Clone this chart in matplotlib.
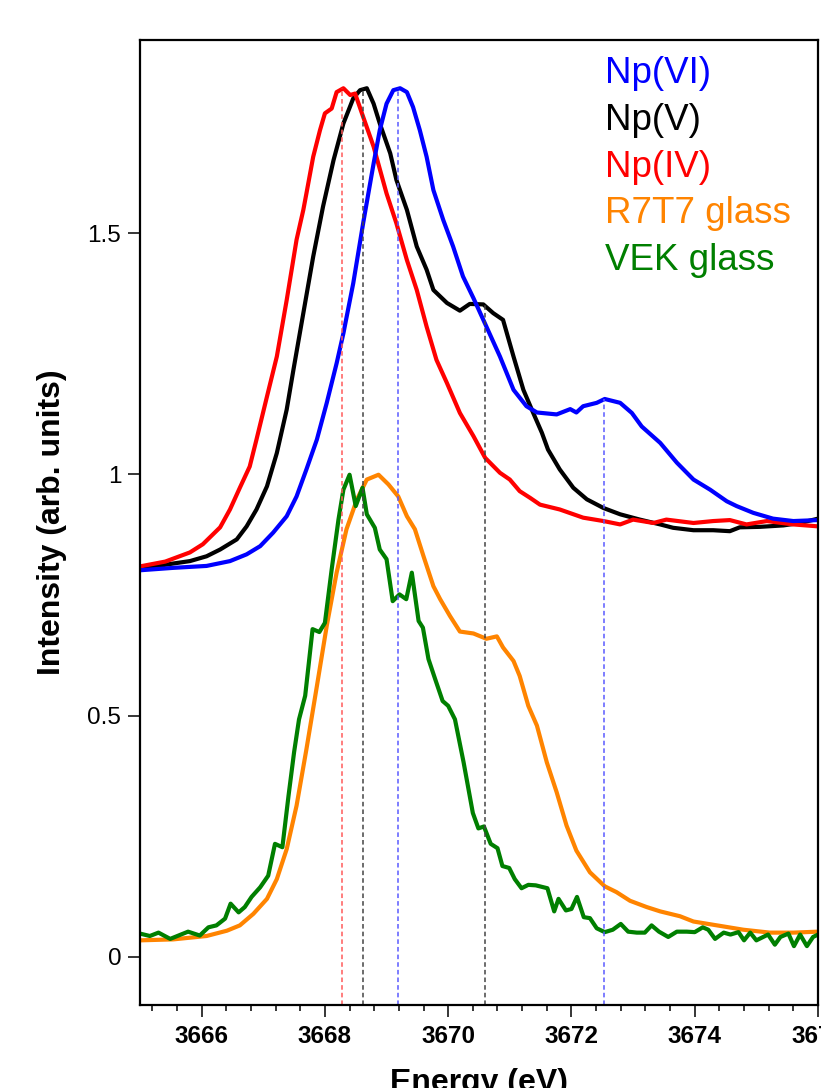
import numpy as np
import matplotlib.pyplot as plt

plt.rcParams['font.family'] = ['Liberation Sans', 'DejaVu Sans']

# Np L3-edge HERFD spectra (reference compounds offset by +0.8)
np6_e = [3665.0, 3665.54, 3666.08, 3666.46, 3666.73, 3666.95, 3667.16, 3667.38, 3667.54, 3667.70,
         3667.87, 3668.03, 3668.19, 3668.30, 3668.46, 3668.62, 3668.79, 3668.89, 3669.00, 3669.11,
         3669.22, 3669.33, 3669.43, 3669.54, 3669.65, 3669.76, 3669.92, 3670.08, 3670.24, 3670.41,
         3670.62, 3670.84, 3671.06, 3671.27, 3671.44, 3671.76, 3671.98, 3672.08, 3672.19, 3672.41,
         3672.54, 3672.79, 3672.98, 3673.14, 3673.44, 3673.71, 3673.98, 3674.25, 3674.52, 3674.68,
         3674.95, 3675.27, 3675.60, 3676.0]
np6_i = [0.801, 0.806, 0.810, 0.820, 0.834, 0.851, 0.879, 0.913, 0.954, 1.010,
         1.072, 1.148, 1.230, 1.292, 1.396, 1.520, 1.644, 1.713, 1.768, 1.796,
         1.800, 1.792, 1.761, 1.713, 1.658, 1.589, 1.527, 1.472, 1.410, 1.365,
         1.306, 1.244, 1.175, 1.141, 1.128, 1.124, 1.135, 1.128, 1.141, 1.148,
         1.156, 1.148, 1.127, 1.099, 1.065, 1.024, 0.989, 0.968, 0.944, 0.934,
         0.920, 0.908, 0.903, 0.905]

np5_e = [3665.0, 3665.54, 3665.81, 3666.08, 3666.30, 3666.57, 3666.73, 3666.89, 3667.06, 3667.22,
         3667.38, 3667.49, 3667.65, 3667.81, 3667.97, 3668.14, 3668.30, 3668.46, 3668.57, 3668.68,
         3668.79, 3668.89, 3669.06, 3669.16, 3669.33, 3669.49, 3669.65, 3669.76, 3669.98, 3670.19,
         3670.35, 3670.57, 3670.73, 3670.89, 3671.06, 3671.22, 3671.38, 3671.52, 3671.62, 3671.81,
         3672.03, 3672.25, 3672.52, 3672.79, 3673.11, 3673.44, 3673.65, 3673.98, 3674.30, 3674.57,
         3674.73, 3675.06, 3675.44, 3675.71, 3676.0]
np5_i = [0.804, 0.815, 0.820, 0.830, 0.844, 0.865, 0.892, 0.927, 0.975, 1.044,
         1.134, 1.217, 1.334, 1.451, 1.555, 1.651, 1.727, 1.779, 1.796, 1.800,
         1.768, 1.727, 1.665, 1.610, 1.548, 1.472, 1.424, 1.382, 1.355, 1.339,
         1.353, 1.352, 1.334, 1.320, 1.244, 1.175, 1.127, 1.086, 1.051, 1.010,
         0.972, 0.948, 0.930, 0.917, 0.906, 0.896, 0.889, 0.884, 0.884, 0.882,
         0.890, 0.891, 0.894, 0.899, 0.908]

np4_e = [3665.0, 3665.41, 3665.81, 3666.02, 3666.30, 3666.46, 3666.62, 3666.78, 3666.89, 3667.06,
         3667.22, 3667.38, 3667.54, 3667.65, 3667.70, 3667.81, 3667.92, 3668.00, 3668.11, 3668.19,
         3668.30, 3668.41, 3668.49, 3668.62, 3668.79, 3669.00, 3669.16, 3669.33, 3669.49, 3669.65,
         3669.81, 3669.98, 3670.19, 3670.41, 3670.60, 3670.84, 3671.00, 3671.16, 3671.33, 3671.49,
         3671.81, 3672.19, 3672.52, 3672.79, 3673.00, 3673.33, 3673.54, 3673.98, 3674.30, 3674.57,
         3674.84, 3675.17, 3675.60, 3676.0]
np4_i = [0.809, 0.819, 0.838, 0.855, 0.890, 0.927, 0.972, 1.016, 1.072, 1.161,
         1.244, 1.361, 1.486, 1.548, 1.582, 1.658, 1.713, 1.748, 1.758, 1.792,
         1.800, 1.786, 1.789, 1.741, 1.679, 1.582, 1.520, 1.444, 1.382, 1.306,
         1.237, 1.189, 1.127, 1.079, 1.034, 1.003, 0.989, 0.965, 0.951, 0.937,
         0.927, 0.910, 0.903, 0.896, 0.906, 0.899, 0.906, 0.899, 0.903, 0.905,
         0.896, 0.903, 0.896, 0.892]

r7t7_e = [3665.0, 3665.54, 3666.08, 3666.41, 3666.62, 3666.84, 3667.06, 3667.22, 3667.38, 3667.54,
          3667.70, 3667.87, 3668.03, 3668.19, 3668.35, 3668.52, 3668.68, 3668.87, 3669.03, 3669.19,
          3669.33, 3669.46, 3669.60, 3669.76, 3669.87, 3670.03, 3670.19, 3670.41, 3670.62, 3670.79,
          3670.89, 3671.06, 3671.16, 3671.30, 3671.44, 3671.60, 3671.76, 3671.92, 3672.08, 3672.30,
          3672.54, 3672.73, 3672.95, 3673.22, 3673.44, 3673.76, 3673.98, 3674.41, 3674.79, 3675.22,
          3675.60, 3676.0]
r7t7_i = [0.034, 0.036, 0.043, 0.054, 0.065, 0.089, 0.120, 0.161, 0.223, 0.313,
          0.430, 0.561, 0.686, 0.796, 0.886, 0.948, 0.989, 0.999, 0.979, 0.954,
          0.913, 0.886, 0.830, 0.768, 0.741, 0.706, 0.674, 0.670, 0.659, 0.664,
          0.641, 0.613, 0.582, 0.520, 0.479, 0.403, 0.341, 0.272, 0.220, 0.175,
          0.146, 0.134, 0.116, 0.103, 0.094, 0.084, 0.073, 0.064, 0.056, 0.050,
          0.050, 0.052]

vek_e = [3665.0, 3665.16, 3665.30, 3665.49, 3665.78, 3665.97, 3666.11, 3666.24, 3666.38, 3666.47,
         3666.60, 3666.70, 3666.81, 3666.95, 3667.08, 3667.19, 3667.31, 3667.41, 3667.50, 3667.58,
         3667.68, 3667.80, 3667.91, 3668.00, 3668.11, 3668.22, 3668.30, 3668.40, 3668.50, 3668.61,
         3668.68, 3668.81, 3668.89, 3669.00, 3669.10, 3669.21, 3669.32, 3669.41, 3669.52, 3669.59,
         3669.68, 3669.79, 3669.91, 3670.00, 3670.11, 3670.25, 3670.40, 3670.49, 3670.58, 3670.69,
         3670.80, 3670.88, 3670.99, 3671.08, 3671.19, 3671.30, 3671.42, 3671.61, 3671.72, 3671.79,
         3671.91, 3672.00, 3672.09, 3672.20, 3672.30, 3672.41, 3672.54, 3672.67, 3672.80, 3672.92,
         3673.06, 3673.19, 3673.30, 3673.42, 3673.57, 3673.71, 3673.87, 3674.00, 3674.13, 3674.22,
         3674.33, 3674.47, 3674.58, 3674.71, 3674.80, 3674.90, 3675.00, 3675.19, 3675.30, 3675.39,
         3675.52, 3675.61, 3675.71, 3675.82, 3675.92, 3676.0]
vek_i = [0.048, 0.043, 0.050, 0.037, 0.052, 0.044, 0.061, 0.065, 0.079, 0.110,
         0.092, 0.103, 0.124, 0.144, 0.168, 0.234, 0.227, 0.334, 0.424, 0.492,
         0.541, 0.679, 0.673, 0.692, 0.803, 0.906, 0.968, 0.999, 0.934, 0.972,
         0.917, 0.889, 0.844, 0.824, 0.737, 0.751, 0.741, 0.796, 0.696, 0.682,
         0.617, 0.575, 0.530, 0.520, 0.492, 0.403, 0.298, 0.266, 0.270, 0.234,
         0.225, 0.188, 0.184, 0.161, 0.142, 0.149, 0.148, 0.142, 0.094, 0.120,
         0.096, 0.099, 0.124, 0.082, 0.080, 0.059, 0.051, 0.056, 0.068, 0.052,
         0.050, 0.050, 0.065, 0.052, 0.041, 0.052, 0.052, 0.051, 0.061, 0.056,
         0.037, 0.050, 0.046, 0.051, 0.034, 0.050, 0.034, 0.046, 0.025, 0.041,
         0.048, 0.022, 0.046, 0.022, 0.041, 0.046]

# white-line / shoulder positions marked with dashed lines
mark_e = [3668.28, 3668.62, 3669.19, 3670.60, 3672.53]
mark_top = [1.800, 1.800, 1.800, 1.352, 1.156]
mark_col = ['#ff5a5a', '#444444', '#5a5aff', '#444444', '#5a5aff']

labels = ['Np(VI)', 'Np(V)', 'Np(IV)', 'R7T7 glass', 'VEK glass']
colors = ['#0000ff', '#000000', '#ff0000', '#ff8400', '#007f00']

fig = plt.figure(figsize=(8.21, 10.88), dpi=100)
ax = fig.add_axes([140 / 821, 83 / 1088, 678 / 821, 965 / 1088])

lw = 3.0
ax.plot(r7t7_e, r7t7_i, color=colors[3], lw=lw)
ax.plot(vek_e, vek_i, color=colors[4], lw=lw)
ax.plot(np5_e, np5_i, color=colors[1], lw=lw)
ax.plot(np4_e, np4_i, color=colors[2], lw=lw)
ax.plot(np6_e, np6_i, color=colors[0], lw=lw)

for e, top, c in zip(mark_e, mark_top, mark_col):
    ax.vlines(e, -0.1, top, colors=c, linestyles=(0, (3, 2)), lw=1.1)

# coloured text instead of a legend box
for k, (lab, c) in enumerate(zip(labels, colors)):
    ax.text(3672.55, 1.810 - 0.0965 * k, lab, color=c, fontsize=26.5, va='baseline', ha='left')

ax.set_xlim(3665, 3676)
ax.set_ylim(-0.1, 1.9)
ax.set_xticks(np.arange(3666, 3677, 2))
ax.set_xticks(np.arange(3665.2, 3676, 0.4), minor=True)
ax.set_yticks([0, 0.5, 1, 1.5])
ax.set_yticklabels(['0', '0.5', '1', '1.5'])

ax.tick_params(axis='both', which='major', direction='out', length=8.5, width=1.1, labelsize=17.5)
ax.tick_params(axis='x', which='minor', direction='out', length=4.5, width=1.1)
ax.tick_params(axis='x', pad=6)
ax.tick_params(axis='y', pad=5)
for t in ax.get_xticklabels():
    t.set_fontweight('bold')
for s in ax.spines.values():
    s.set_linewidth(1.6)

ax.set_xlabel('Energy (eV)', fontsize=23, fontweight='bold', labelpad=14)
ax.set_ylabel('Intensity (arb. units)', fontsize=23, fontweight='bold', labelpad=15)

fig.savefig('out.png', dpi=100)
